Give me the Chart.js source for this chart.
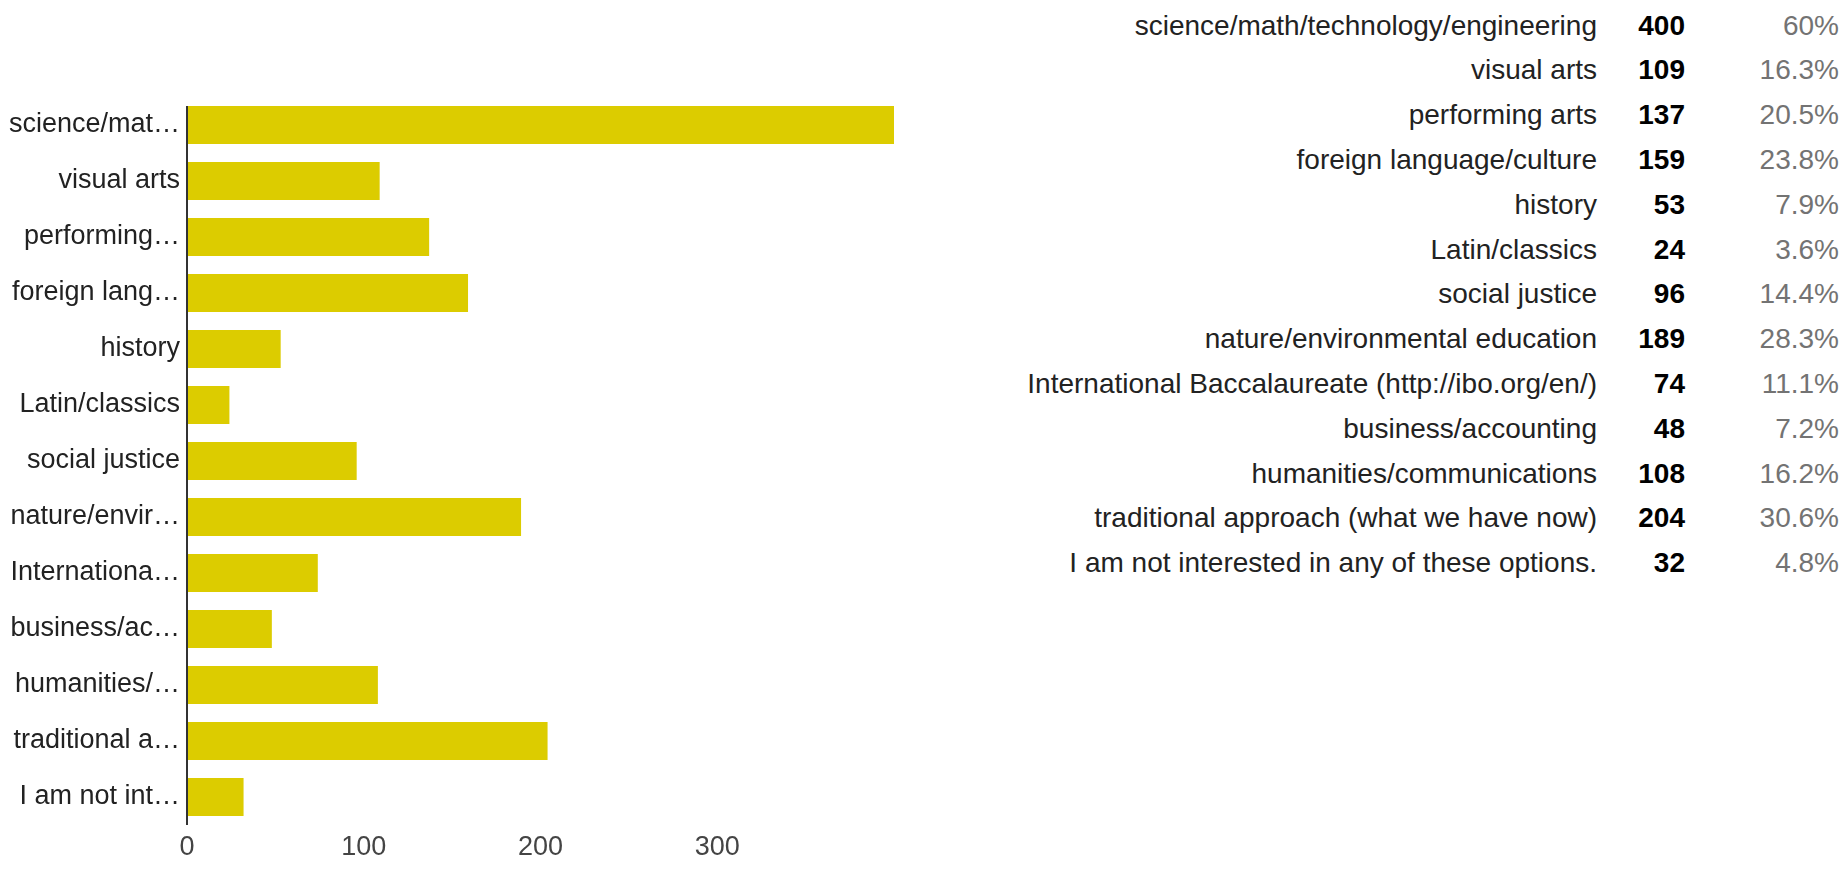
<!DOCTYPE html>
<html>
<head>
<meta charset="utf-8">
<script src="https://cdn.jsdelivr.net/npm/chart.js@4/dist/chart.umd.min.js"></script>
<style>
  html, body { margin: 0; padding: 0; background: #fff; }
  body { width: 1845px; height: 869px; position: relative; overflow: hidden;
         font-family: 'Liberation Sans', Arial, Helvetica, sans-serif; }
  #chartBox { position: absolute; left: 0; top: 0; width: 920px; height: 869px; }
  .col { position: absolute; top: 3.6px; text-align: right; font-size: 28px; line-height: 44.8px; white-space: nowrap; }
  #colLabel { right: 248px; color: #222; }
  #colCount { right: 160px; color: #000; font-weight: bold; }
  #colPct { right: 6px; color: #737373; }
</style>
</head>
<body>
<div id="chartBox"><canvas id="c"></canvas></div>
<div class="col" id="colLabel"></div>
<div class="col" id="colCount"></div>
<div class="col" id="colPct"></div>
<script>
const categories = [
  "science/math/technology/engineering",
  "visual arts",
  "performing arts",
  "foreign language/culture",
  "history",
  "Latin/classics",
  "social justice",
  "nature/environmental education",
  "International Baccalaureate (http://ibo.org/en/)",
  "business/accounting",
  "humanities/communications",
  "traditional approach (what we have now)",
  "I am not interested in any of these options."
];
const axisLabels = [
  "science/mat…", "visual arts", "performing…", "foreign lang…", "history",
  "Latin/classics", "social justice", "nature/envir…", "Internationa…",
  "business/ac…", "humanities/…", "traditional a…", "I am not int…"
];
const counts = [400, 109, 137, 159, 53, 24, 96, 189, 74, 48, 108, 204, 32];
const percents = ["60%", "16.3%", "20.5%", "23.8%", "7.9%", "3.6%", "14.4%", "28.3%", "11.1%", "7.2%", "16.2%", "30.6%", "4.8%"];
const xTicks = [0, 100, 200, 300];
const xMax = 400;

// Right-hand summary table (real text)
const esc = s => s.replace(/&/g,'&amp;').replace(/</g,'&lt;');
document.getElementById('colLabel').innerHTML = categories.map(s => '<div>' + esc(s) + '</div>').join('');
document.getElementById('colCount').innerHTML = counts.map(v => '<div>' + v + '</div>').join('');
document.getElementById('colPct').innerHTML = percents.map(v => '<div>' + v + '</div>').join('');

Chart.defaults.font.family = "'Liberation Sans', Arial, Helvetica, sans-serif";

// Vertical baseline drawn from the top of the first bar down to the bottom of the plot area
const baselinePlugin = {
  id: 'baseline',
  afterDatasetsDraw(chart) {
    const bar = chart.getDatasetMeta(0).data[0];
    if (!bar) return;
    const ctx = chart.ctx, area = chart.chartArea;
    const x = chart.scales.x.getPixelForValue(0);
    ctx.save();
    ctx.strokeStyle = '#333';
    ctx.lineWidth = 2;
    ctx.beginPath();
    ctx.moveTo(x, bar.y - bar.height / 2);
    ctx.lineTo(x, area.bottom);
    ctx.stroke();
    ctx.restore();
  }
};

new Chart(document.getElementById('c'), {
  type: 'bar',
  data: {
    labels: axisLabels,
    datasets: [{
      data: counts,
      backgroundColor: '#dccc00',
      borderWidth: 0,
      categoryPercentage: 1.0,
      barPercentage: 0.68
    }]
  },
  plugins: [baselinePlugin],
  options: {
    indexAxis: 'y',
    responsive: true,
    maintainAspectRatio: false,
    animation: false,
    layout: { padding: { top: 97, right: 26, left: 0, bottom: 0 } },
    plugins: { legend: { display: false }, tooltip: { enabled: false } },
    scales: {
      x: {
        min: 0, max: xMax,
        afterBuildTicks: (s) => { s.ticks = xTicks.concat([xMax]).map(v => ({ value: v })); },
        ticks: {
          color: '#444',
          font: { size: 27 },
          padding: 6,
          maxRotation: 0,
          callback: (v) => xTicks.includes(v) ? String(v) : ''
        },
        grid: { display: false, drawTicks: false },
        border: { display: false },
        afterFit: (s) => { s.height = 44; }
      },
      y: {
        ticks: { color: '#222', font: { size: 27 }, padding: 7, autoSkip: false },
        grid: { display: false, drawTicks: false },
        border: { display: false },
        afterFit: (s) => { s.width = 187; }
      }
    }
  }
});
</script>
</body>
</html>
